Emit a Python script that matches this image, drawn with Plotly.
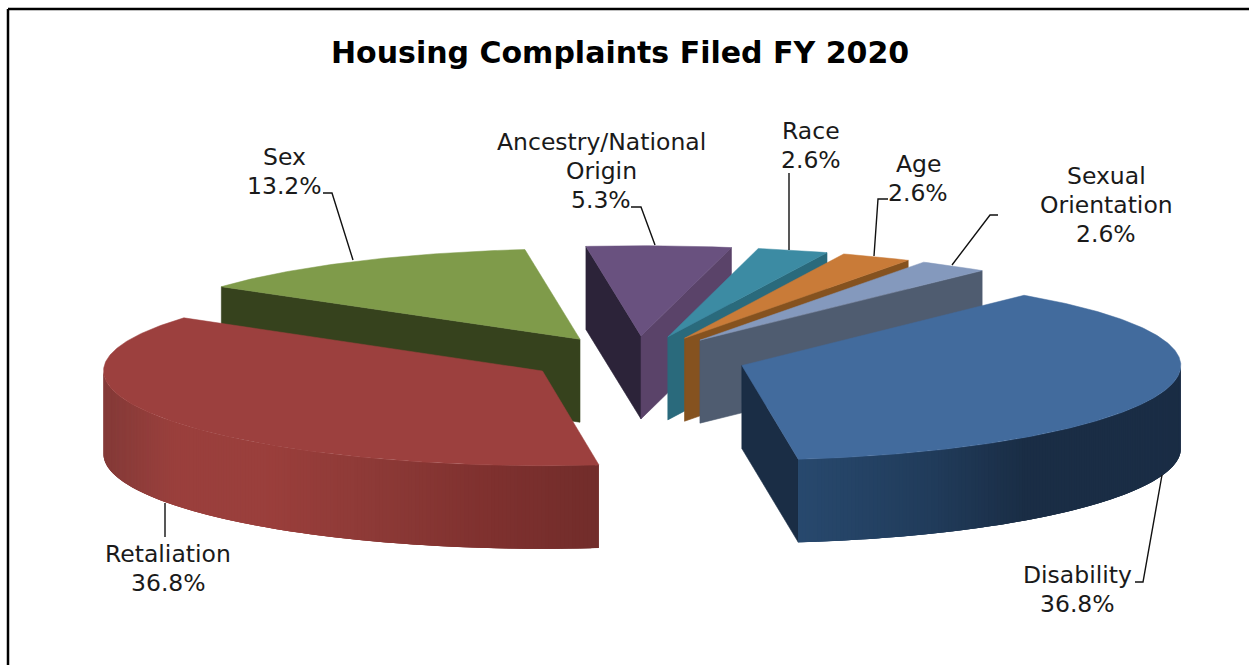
import numpy as np
import plotly.graph_objects as go

# ---- data ----
categories = ["Disability", "Retaliation", "Sex", "Ancestry/National<br>Origin", "Race", "Age", "Sexual<br>Orientation"]
values = [36.8, 36.8, 13.2, 5.3, 2.6, 2.6, 2.6]
title_text = "Housing Complaints Filed FY 2020"

# ---- styles ----
top_colors = ["#426b9d", "#9c403e", "#7f9b4a", "#69517f", "#3c8ba3", "#c97b38", "#8499bd"]
start_face = ["#1a2d45", "#732e2c", "#36421d", "#2c2339", "#2a6a7c", "#85521f", "#4f5c70"]
end_face = ["#1a2d45", "#732e2c", "#36421d", "#5a4369", "#2a6a7c", "#85521f", "#4f5c70"]
side_stops = {
    0: [(0.0, "#28496e"), (0.35, "#213c5b"), (0.6, "#1a2d45"), (1.0, "#1a2d45")],
    1: [(0.0, "#843a38"), (0.14, "#9a403d"), (0.33, "#9b3f3c"), (0.55, "#8d3a37"), (0.78, "#7f312f"), (1.0, "#722d2b")],
}
draw_order = [2, 3, 4, 5, 6, 0, 1]
start_angle, pull = 40.0, 0.25
cx, cy, rx, ry, thick, persp = 636.5, 359.0, 439.0, 92.7, 83.0, 0.0176
line_gap = 29

label_pos = [(1077, 589.5), (168, 568), (284, 171.5), (601, 171), (811, 145.5), (918, 178.5), (1106, 205)]
leaders = [
    [(1135, 582), (1143, 582), (1162, 475)],
    [(165, 503), (165, 537)],
    [(323, 193), (332, 193), (353, 260)],
    [(631, 207), (641, 207), (655, 245)],
    [(789, 173), (789, 250)],
    [(888, 199), (878, 199), (874, 256)],
    [(998, 215), (990, 215), (952, 265)],
]


def project(u, v):
    return cx + rx * u, cy + ry * v * (1 + persp * v)


def hexrgb(h):
    return np.array([int(h[i:i + 2], 16) for i in (1, 3, 5)], float)


def grad(stops, t):
    for (a, ca), (b, cb) in zip(stops, stops[1:]):
        if t <= b:
            f = (t - a) / (b - a)
            c = hexrgb(ca) * (1 - f) + hexrgb(cb) * f
            return "rgb(%d,%d,%d)" % tuple(c)
    return stops[-1][1]


fig = go.Figure()


def poly(xs, ys, color, width=0.6):
    fig.add_trace(go.Scatter(x=xs, y=ys, mode="lines", fill="toself", fillcolor=color,
                             line=dict(color=color, width=width), hoverinfo="skip", showlegend=False))


total = sum(values)
edges = np.cumsum([0] + values) / total * 360 + start_angle
for i in draw_order:
    a0, a1 = edges[i], edges[i + 1]
    mid = np.radians((a0 + a1) / 2)
    ou, ov = pull * np.sin(mid), -pull * np.cos(mid)
    th = np.radians(np.linspace(a0, a1, max(int(a1 - a0) * 2, 8)))
    us, vs = ou + np.sin(th), ov - np.cos(th)
    ax, ay = project(ou, ov)
    ex, ey = project(us, vs)
    # cut faces
    if -np.sin(np.radians(a0)) > 0:  # start face looks at the viewer
        xe, ye = ex[0], ey[0]
        poly([ax, xe, xe, ax, ax], [ay, ye, ye + thick, ay + thick, ay], start_face[i])
    if np.sin(np.radians(a1)) > 0:  # end face looks at the viewer
        xe, ye = ex[-1], ey[-1]
        poly([ax, xe, xe, ax, ax], [ay, ye, ye + thick, ay + thick, ay], end_face[i])
    # outer rim: overlapping strips painted in sequence, so no seams show
    idx = np.where(np.cos(th) < 0)[0]
    if len(idx) > 1 and i in side_stops:
        lo, hi = ex[idx].min(), ex[idx].max()
        seq = list(idx)
        for n in range(len(seq) - 1):
            j, k = seq[n], seq[min(n + 3, len(seq) - 1)]
            a, b = sorted((j, k))
            arc = list(range(a, b + 1))
            t = ((ex[seq[n]] + ex[seq[n + 1]]) / 2 - lo) / (hi - lo)
            xs = [ex[m] for m in arc] + [ex[m] for m in arc[::-1]]
            ys = [ey[m] for m in arc] + [ey[m] + thick for m in arc[::-1]]
            poly(xs, ys, grad(side_stops[i], t), width=0)
    # top face
    poly([ax, *ex, ax], [ay, *ey, ay], top_colors[i], width=0.5)

annotations = [dict(x=620, y=52, text="<b>%s</b>" % title_text, showarrow=False, xref="x", yref="y",
                    font=dict(family="DejaVu Sans", size=30, color="#000000"))]
for name, val, (lx, ly) in zip(categories, values, label_pos):
    rows = name.split("<br>") + ["%.1f%%" % val]
    for r, row in enumerate(rows):
        annotations.append(dict(x=lx, y=ly + (r - (len(rows) - 1) / 2) * line_gap, text=row, showarrow=False,
                                xref="x", yref="y",
                                font=dict(family="DejaVu Sans", size=23.5, color="#1a1a1a")))

shapes = []
for path in leaders:
    d = "M " + " L ".join("%g,%g" % p for p in path)
    shapes.append(dict(type="path", path=d, line=dict(color="#111111", width=1.4), xref="x", yref="y"))
for (x0, y0, x1, y1) in [(8, 9, 8, 665), (8, 9, 1249, 9)]:
    shapes.append(dict(type="line", x0=x0, y0=y0, x1=x1, y1=y1, xref="x", yref="y",
                       line=dict(color="#000000", width=2.5)))

fig.update_layout(width=1249, height=665, margin=dict(l=0, r=0, t=0, b=0), paper_bgcolor="white",
                  plot_bgcolor="white", showlegend=False, annotations=annotations, shapes=shapes,
                  xaxis=dict(range=[0, 1249], visible=False, fixedrange=True),
                  yaxis=dict(range=[665, 0], visible=False, fixedrange=True))
fig.write_html("out.html", config={"displayModeBar": False},
               post_script="document.body.style.margin='0';")
